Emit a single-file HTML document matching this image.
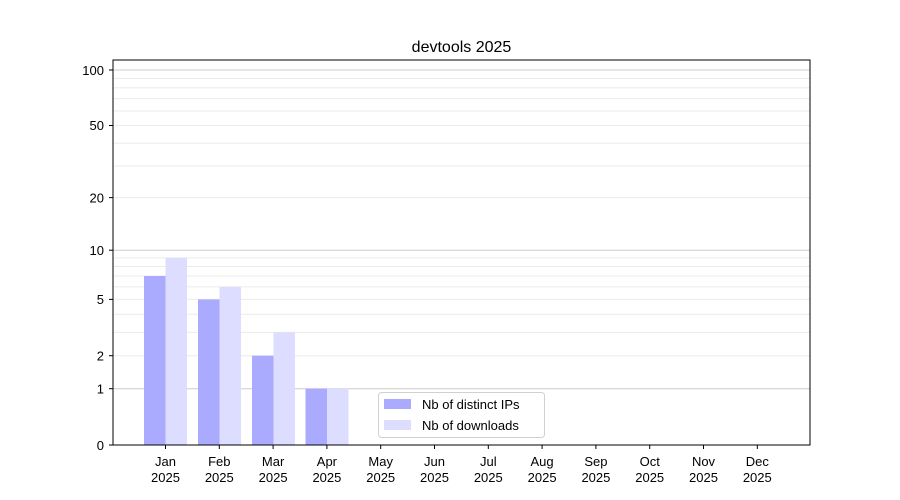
<!DOCTYPE html>
<html><head><meta charset="utf-8"><style>body{margin:0;background:#fff}svg{display:block}text{font-family:"Liberation Sans","DejaVu Sans",sans-serif;font-size:13px;fill:#000}</style></head><body>
<svg width="900" height="500" xmlns="http://www.w3.org/2000/svg">
<rect width="900" height="500" fill="#fff"/>
<g stroke="#ebebeb" stroke-width="1">
<line x1="113" x2="810" y1="355.7" y2="355.7"/><line x1="113" x2="810" y1="332.4" y2="332.4"/><line x1="113" x2="810" y1="314.2" y2="314.2"/><line x1="113" x2="810" y1="299.4" y2="299.4"/><line x1="113" x2="810" y1="286.9" y2="286.9"/><line x1="113" x2="810" y1="276" y2="276"/><line x1="113" x2="810" y1="266.5" y2="266.5"/><line x1="113" x2="810" y1="257.9" y2="257.9"/><line x1="113" x2="810" y1="197.6" y2="197.6"/><line x1="113" x2="810" y1="166" y2="166"/><line x1="113" x2="810" y1="143.3" y2="143.3"/><line x1="113" x2="810" y1="125.5" y2="125.5"/><line x1="113" x2="810" y1="111" y2="111"/><line x1="113" x2="810" y1="98.6" y2="98.6"/><line x1="113" x2="810" y1="87.9" y2="87.9"/><line x1="113" x2="810" y1="78.5" y2="78.5"/>
</g>
<g stroke="#cccccc" stroke-width="1">
<line x1="113" x2="810" y1="388.7" y2="388.7"/><line x1="113" x2="810" y1="250.2" y2="250.2"/><line x1="113" x2="810" y1="70" y2="70"/>
</g>
<g fill="#aaaaff">
<rect x="144" y="276" width="21.5" height="169"/>
<rect x="198" y="299.4" width="21.5" height="145.6"/>
<rect x="252" y="355.7" width="21.5" height="89.3"/>
<rect x="305.5" y="388.7" width="21.5" height="56.3"/>
</g>
<g fill="#ddddff">
<rect x="165.5" y="257.9" width="21.5" height="187.1"/>
<rect x="219.5" y="286.9" width="21.5" height="158.1"/>
<rect x="273.5" y="332.4" width="21.5" height="112.6"/>
<rect x="327" y="388.7" width="21.5" height="56.3"/>
</g>
<rect x="113" y="60" width="697" height="385" fill="none" stroke="#000" stroke-width="1"/>
<g stroke="#000">
<line x1="109" x2="113" y1="445" y2="445"/><line x1="109" x2="113" y1="388.7" y2="388.7"/><line x1="109" x2="113" y1="355.7" y2="355.7"/><line x1="109" x2="113" y1="299.4" y2="299.4"/><line x1="109" x2="113" y1="250.2" y2="250.2"/><line x1="109" x2="113" y1="197.6" y2="197.6"/><line x1="109" x2="113" y1="125.5" y2="125.5"/><line x1="109" x2="113" y1="70" y2="70"/>
</g>
<g text-anchor="end">
<text x="104" y="450">0</text><text x="104" y="393.5">1</text><text x="104" y="360.5">2</text><text x="104" y="304">5</text><text x="104" y="255">10</text><text x="104" y="202.5">20</text><text x="104" y="130">50</text><text x="104" y="75">100</text>
</g>
<g stroke="#000">
<line x1="165.5" x2="165.5" y1="445" y2="449"/><line x1="219.3" x2="219.3" y1="445" y2="449"/><line x1="273.1" x2="273.1" y1="445" y2="449"/><line x1="326.9" x2="326.9" y1="445" y2="449"/><line x1="380.7" x2="380.7" y1="445" y2="449"/><line x1="434.5" x2="434.5" y1="445" y2="449"/><line x1="488.3" x2="488.3" y1="445" y2="449"/><line x1="542.1" x2="542.1" y1="445" y2="449"/><line x1="595.9" x2="595.9" y1="445" y2="449"/><line x1="649.7" x2="649.7" y1="445" y2="449"/><line x1="703.5" x2="703.5" y1="445" y2="449"/><line x1="757.3" x2="757.3" y1="445" y2="449"/>
</g>
<g text-anchor="middle">
<text x="165.5" y="466">Jan</text><text x="165.5" y="482">2025</text>
<text x="219.3" y="466">Feb</text><text x="219.3" y="482">2025</text>
<text x="273.1" y="466">Mar</text><text x="273.1" y="482">2025</text>
<text x="326.9" y="466">Apr</text><text x="326.9" y="482">2025</text>
<text x="380.7" y="466">May</text><text x="380.7" y="482">2025</text>
<text x="434.5" y="466">Jun</text><text x="434.5" y="482">2025</text>
<text x="488.3" y="466">Jul</text><text x="488.3" y="482">2025</text>
<text x="542.1" y="466">Aug</text><text x="542.1" y="482">2025</text>
<text x="595.9" y="466">Sep</text><text x="595.9" y="482">2025</text>
<text x="649.7" y="466">Oct</text><text x="649.7" y="482">2025</text>
<text x="703.5" y="466">Nov</text><text x="703.5" y="482">2025</text>
<text x="757.3" y="466">Dec</text><text x="757.3" y="482">2025</text>
<text x="461.5" y="52" style="font-size:16px">devtools 2025</text>
</g>
<rect x="378.5" y="392.5" width="166" height="45" rx="3" fill="#fff" fill-opacity="0.8" stroke="#d0d0d0"/>
<rect x="384" y="399" width="27" height="10" fill="#aaaaff"/>
<rect x="384" y="420" width="27" height="10" fill="#ddddff"/>
<text x="422" y="409">Nb of distinct IPs</text>
<text x="422" y="430">Nb of downloads</text>
</svg>
</body></html>
